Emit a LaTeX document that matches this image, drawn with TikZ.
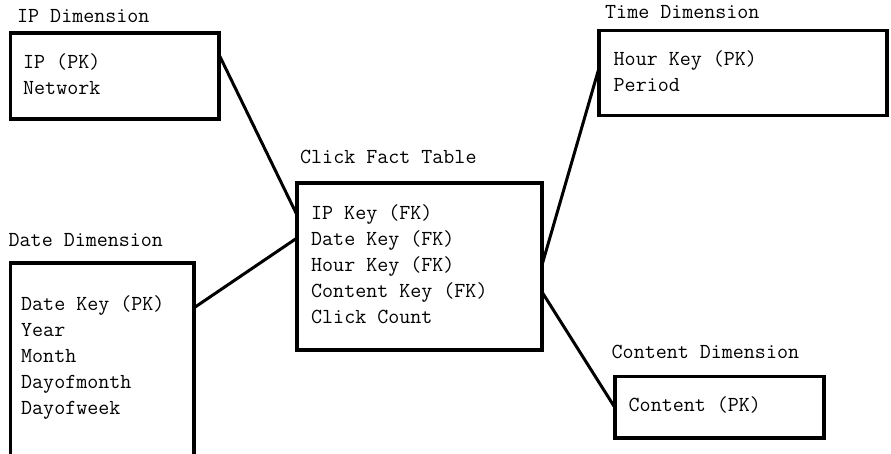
\documentclass[tikz,border=0pt]{standalone}

\begin{document}
\begin{tikzpicture}[
    x=1pt, y=1pt,
    % Define styles
    dimtable/.style={rectangle, draw=black, line width=3.6pt, anchor=north west, inner sep=0pt, outer sep=0pt},
    tabletitle/.style={anchor=base west, inner sep=0pt},
    fields/.style={anchor=base west, inner sep=0pt, align=left},
    link/.style={draw=black, line width=3pt},
    % Font
    font=\ttfamily\fontsize{21.4}{26}\selectfont
]
\useasboundingbox (0,0) rectangle (891,453);
\clip (0,0) rectangle (891,453);

% Dimension and fact tables
\node[dimtable, minimum width=208.4, minimum height=86] (ipdim) at (10.3,420) {};
\node[dimtable, minimum width=183.5, minimum height=210] (datedim) at (10.5,190.2) {};
\node[dimtable, minimum width=245, minimum height=167] (clickfact) at (297,270) {};
\node[dimtable, minimum width=288, minimum height=85] (timedim) at (599,422.5) {};
\node[dimtable, minimum width=209, minimum height=61.5] (contentdim) at (614.7,76.5) {};

% Table names
\node[tabletitle] (iptitle) at (17,430.5) {IP Dimension};
\node[tabletitle] (datetitle) at (8.5,206.3) {Date Dimension};
\node[tabletitle] (facttitle) at (300,289.7) {Click Fact Table};
\node[tabletitle] (timetitle) at (605,434.7) {Time Dimension};
\node[tabletitle] (contenttitle) at (611.5,94.7) {Content Dimension};

% Columns (anchored at the last line)
\node[fields] (ipfields) at (23,358) {IP (PK)\\Network};
\node[fields] (datefields) at (21,38.3) {Date Key (PK)\\Year\\Month\\Dayofmonth\\Dayofweek};
\node[fields] (factfields) at (311,130) {IP Key (FK)\\Date Key (FK)\\Hour Key (FK)\\Content Key (FK)\\Click Count};
\node[fields] (timefields) at (613.5,361.3) {Hour Key (PK)\\Period};
\node[fields] (contentfields) at (628.5,41.3) {Content (PK)};

% Star schema links
\draw[link] ([yshift=-21pt]ipdim.north east) -- ([yshift=-32pt]clickfact.north west);
\draw[link] ([yshift=-45pt]datedim.north east) -- ([yshift=-55pt]clickfact.north west);
\draw[link] ([yshift=-82pt]clickfact.north east) -- ([yshift=-37.5pt]timedim.north west);
\draw[link] ([yshift=-109pt]clickfact.north east) -- (contentdim.west);

\end{tikzpicture}
\end{document}
